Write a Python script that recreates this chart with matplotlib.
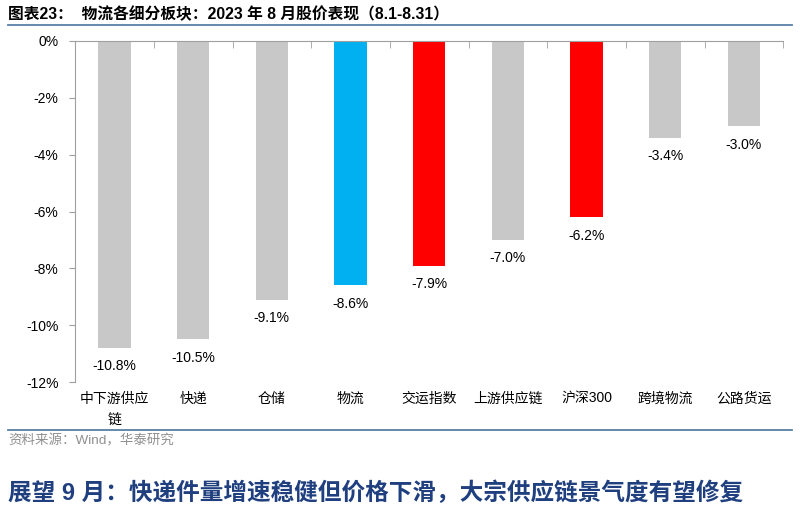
import numpy as np
import matplotlib
matplotlib.use("Agg")
import matplotlib.pyplot as plt

plt.rcParams['font.family'] = ['Liberation Sans', 'Noto Sans CJK SC', 'DejaVu Sans']

#----------------------数据----------------------
categories = ['中下游供应\n链', '快递', '仓储', '物流', '交运指数', '上游供应链', '沪深300', '跨境物流', '公路货运']
values = [-10.8, -10.5, -9.1, -8.6, -7.9, -7.0, -6.2, -3.4, -3.0]
bar_colors = ['#C8C8C8', '#C8C8C8', '#C8C8C8', '#00B0F0', '#FF0000', '#C8C8C8', '#FF0000', '#C8C8C8', '#C8C8C8']
yticks = [0, -2, -4, -6, -8, -10, -12]

#----------------------画图----------------------
fig = plt.figure(figsize=(8, 5.11), dpi=100)
ax = fig.add_axes([0.094, 0.2524, 0.885, 0.6674])

x = np.arange(len(categories))
ax.bar(x, values, width=0.41, color=bar_colors)
for xi, v in zip(x, values):
    ax.text(xi, v - 0.4, '%.1f%%' % v, ha='center', va='top', fontsize=10, color='#000000')

ax.set_xlim(-0.5, len(categories) - 0.5)
ax.set_ylim(-12, 0)
ax.set_yticks(yticks)
ax.set_yticklabels(['%d%%' % t for t in yticks], fontsize=10)

# x轴放在0处, 刻度在类别边界
ax.spines['top'].set_visible(True)
ax.spines['top'].set_color('#A0A0A0')
ax.spines['right'].set_visible(False)
ax.spines['bottom'].set_visible(False)
ax.spines['left'].set_color('#A0A0A0')
ax.tick_params(axis='y', direction='out', length=4, color='#A0A0A0', pad=8)
ax.set_xticks(np.arange(-0.5, len(categories), 1.0), minor=True)
ax.tick_params(axis='x', which='minor', top=True, bottom=False, direction='in', length=5, color='#A0A0A0')
ax.set_xticks(x)
ax.set_xticklabels(categories, fontsize=10, linespacing=1.7, va='top')
ax.tick_params(axis='x', which='major', length=0, pad=7)

# 标题和注释
fig.text(0.01, 0.972, '图表23：  物流各细分板块：2023 年 8 月股价表现（8.1-8.31）', fontsize=11.3,
         fontweight='bold', ha='left', va='center')
fig.add_artist(plt.Line2D([0.01, 0.99], [0.951, 0.951], color='#5B7FA8', linewidth=1.3))
fig.add_artist(plt.Line2D([0.01, 0.99], [0.159, 0.159], color='#5B7FA8', linewidth=1.3))
fig.text(0.01, 0.137, '资料来源：Wind，华泰研究', fontsize=9.7, color='#909090', ha='left', va='center')
fig.text(0.01, 0.035, '展望 9 月：快递件量增速稳健但价格下滑，大宗供应链景气度有望修复', fontsize=17,
         fontweight='bold', color='#1F3F7F', ha='left', va='center')

plt.savefig('out.png', dpi=100)
